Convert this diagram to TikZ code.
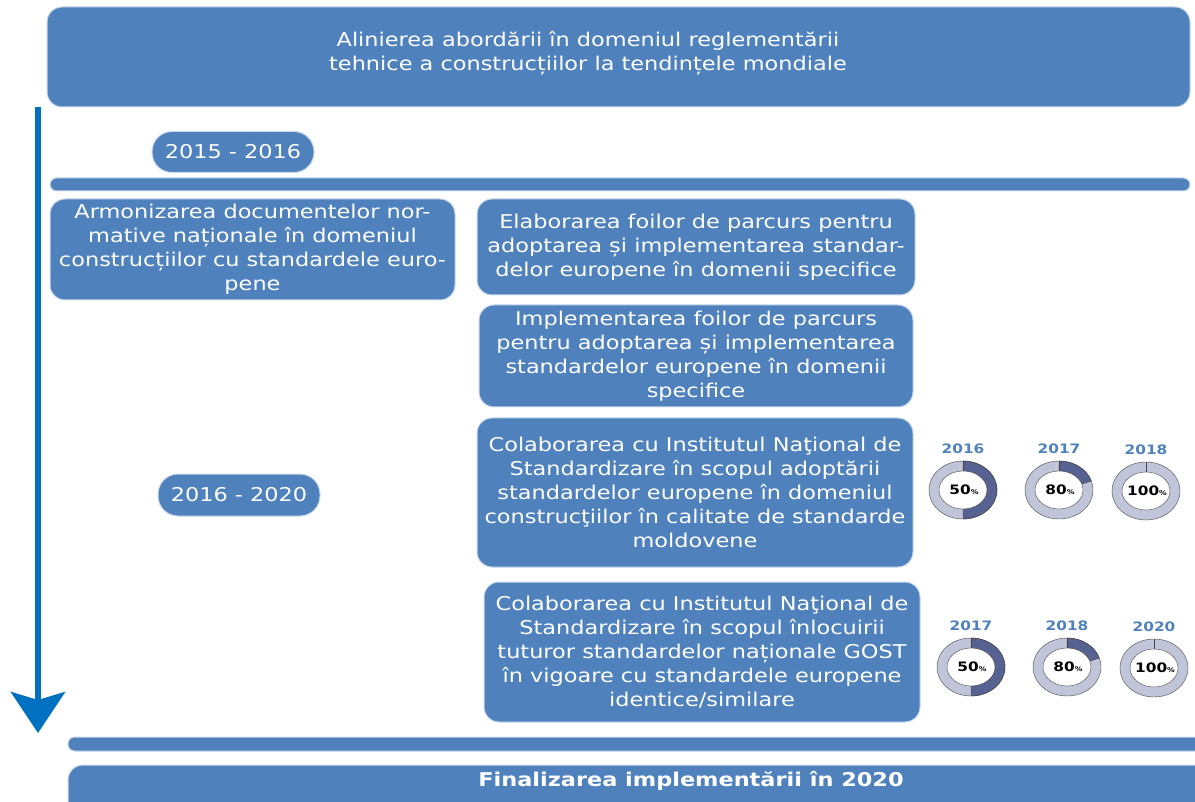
\documentclass[tikz,border=0pt]{standalone}
\usepackage{fontspec}
\setmainfont{DejaVu Sans}
\newfontfamily\boxfont[FakeStretch=1.18]{DejaVu Sans}
\usepackage{tikz}
\usetikzlibrary{arrows.meta}

\begin{document}
\begin{tikzpicture}[x=1pt, y=-1pt]
    % --- GLOBAL DEFINITIONS ---
    \def\rox{34} \def\roy{29} % outer ring radii
    \def\rix{24} \def\riy{19} % inner ring radii

    \definecolor{boxblue}{RGB}{79, 129, 189}
    \definecolor{arrowblue}{RGB}{0, 112, 192}
    \definecolor{ringlight}{RGB}{192, 197, 218}
    \definecolor{ringdark}{RGB}{86, 98, 145}
    \definecolor{ringline}{RGB}{70, 70, 70}

    \tikzset{
        stepbox/.style={fill=boxblue, draw=white!70!boxblue, line width=1pt, rounded corners=15pt, text=white, align=center, inner sep=0pt, font=\boxfont\fontsize{19}{24}\selectfont},
        yearpill/.style={stepbox, rounded corners=20pt},
        timebar/.style={fill=boxblue, draw=white!70!boxblue, line width=1pt, rounded corners=6.5pt, inner sep=0pt},
        steptext/.style={text=white, align=center, inner sep=0pt, font=\boxfont\fontsize{19}{24}\selectfont},
        yearlabel/.style={text=boxblue, inner sep=0pt, font=\boxfont\bfseries\fontsize{13}{14}\selectfont},
        pctlabel/.style={inner sep=0pt, font=\boxfont\bfseries\fontsize{13}{14}\selectfont},
        flowarrow/.style={-{Stealth[length=41pt, width=54pt, inset=8pt]}, line width=6pt, arrowblue}
    }

    \useasboundingbox (0,0) rectangle (1195,802);

    % HEADER
    \node[stepbox, minimum width=1143pt, minimum height=100pt] (aim) at (618.5,57) {};
    \node[steptext] (aimtext) at (588,53) {Alinierea abordării în domeniul reglementării\\tehnice a construcțiilor la tendințele mondiale};

    % TIME AXIS
    \coordinate (axistop) at (38,107);
    \coordinate (axistip) at (38,733);
    \draw[flowarrow] (axistop) -- (axistip);

    % 2015 - 2016
    \node[yearpill, minimum width=162pt, minimum height=41pt] (pillA) at (233,152) {2015 - 2016};
    \node[timebar, minimum width=1140pt, minimum height=13pt] (barA) at (620,184.5) {};
    \node[stepbox, minimum width=405pt, minimum height=101pt] (armon) at (252.5,249.5) {Armonizarea documentelor nor-\\mative naționale în domeniul\\construcțiilor cu standardele euro-\\pene};
    \node[stepbox, minimum width=438pt, minimum height=96pt] (elab) at (696,247) {Elaborarea foilor de parcurs pentru\\adoptarea și implementarea standar-\\delor europene în domenii specifice};

    % 2016 - 2020
    \node[stepbox, minimum width=434pt, minimum height=102pt] (impl) at (696,356) {Implementarea foilor de parcurs\\pentru adoptarea și implementarea\\standardelor europene în domenii\\specifice};
    \node[stepbox, minimum width=436pt, minimum height=149pt] (colabA) at (695,492.5) {Colaborarea cu Institutul Naţional de\\Standardizare în scopul adoptării\\standardelor europene în domeniul\\construcţiilor în calitate de standarde\\moldovene};
    \node[yearpill, minimum width=162pt, minimum height=42pt] (pillB) at (239,495) {2016 - 2020};
    \node[stepbox, minimum width=436pt, minimum height=140pt] (colabB) at (702,652) {Colaborarea cu Institutul Naţional de\\Standardizare în scopul înlocuirii\\tuturor standardelor naționale GOST\\în vigoare cu standardele europene\\identice/similare};

    % PROGRESS RINGS
    \foreach \cx/\cy/\yr/\pc/\ea [count=\k] in {963/490/2016/50/-90, 1059/490/2017/80/18, 1146/491/2018/100/90,
                                               971/667/2017/50/-90, 1067/667/2018/80/18, 1154/668/2020/100/90} {
        \begin{scope}[shift={(\cx,\cy)}, yscale=-1]
            \fill[ringlight, even odd rule] (0,0) ellipse[x radius=\rox, y radius=\roy] (0,0) ellipse[x radius=\rix, y radius=\riy];
            \ifnum\ea=90 \else
                \filldraw[fill=ringdark, draw=ringline, thin] (0,\roy) arc[start angle=90, end angle=\ea, x radius=\rox, y radius=\roy]
                    -- ({\rix*cos(\ea)},{\riy*sin(\ea)}) arc[start angle=\ea, end angle=90, x radius=\rix, y radius=\riy] -- cycle;
            \fi
            \draw[ringline, thin] (0,0) ellipse[x radius=\rox, y radius=\roy];
            \filldraw[fill=white, draw=ringline, thin] (0,0) ellipse[x radius=\rix, y radius=\riy];
            \draw[ringline, thin] (0,\roy) -- (0,\riy);
            \node[pctlabel] (pct\k) at (1,0) {\pc{\fontsize{6.5}{7}\selectfont\%}};
            \node[yearlabel] (year\k) at (0,41) {\yr};
        \end{scope}
    }

    % END
    \node[timebar, minimum width=1140pt, minimum height=14pt] (barB) at (638,744) {};
    \node[stepbox, minimum width=1150pt, minimum height=60pt] (final) at (643,795) {};
    \node[steptext, font=\boxfont\bfseries\fontsize{19}{24}\selectfont] (finaltext) at (691,781) {Finalizarea implementării în 2020};
\end{tikzpicture}
\end{document}
